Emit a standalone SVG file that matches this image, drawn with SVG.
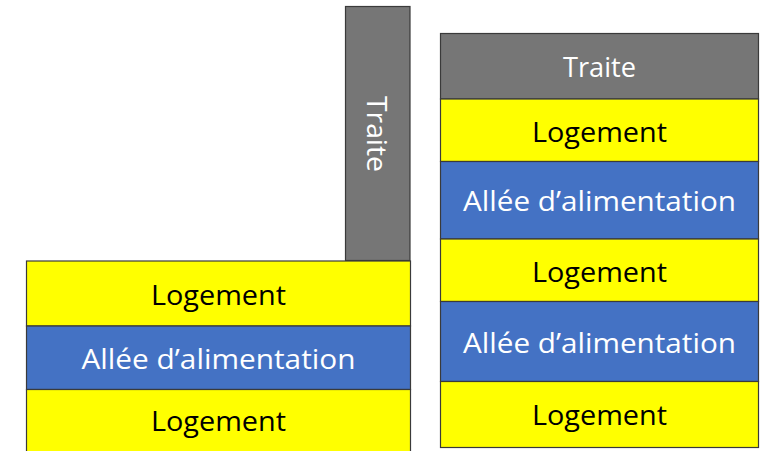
<svg xmlns="http://www.w3.org/2000/svg" width="760" height="451" viewBox="0 0 760 451">
  <style>
    .band { stroke: #3a3a3a; stroke-width: 1.2; }
    .traite { fill: #767676; }
    .loge { fill: #ffff00; }
    .allee { fill: #4472c4; }
    text { font-family: "Open Sans", "Liberation Sans", sans-serif; font-size: 28px; text-anchor: middle; dominant-baseline: central; }
    .dark { fill: #000000; }
    .light { fill: #ffffff; }
  </style>
  <rect width="760" height="451" fill="#ffffff"/>

  <!-- Left layout: vertical feeding lane beside stacked bands -->
  <g id="left-traite">
    <rect class="band traite" x="345.5" y="6.5" width="64.5" height="254"/>
    <text class="light" transform="translate(377.5,134) rotate(90)" textLength="76" lengthAdjust="spacingAndGlyphs">Traite</text>
  </g>
  <g id="left-logement-1">
    <rect class="band loge" x="26.5" y="261" width="384" height="65"/>
    <text class="dark" x="218.5" y="294" textLength="135" lengthAdjust="spacingAndGlyphs">Logement</text>
  </g>
  <g id="left-allee">
    <rect class="band allee" x="26.5" y="326" width="384" height="63.5"/>
    <text class="light" x="218.5" y="358" textLength="274" lengthAdjust="spacingAndGlyphs">Allée d’alimentation</text>
  </g>
  <g id="left-logement-2">
    <rect class="band loge" x="26.5" y="389.5" width="384" height="70"/>
    <text class="dark" x="218.5" y="420" textLength="135" lengthAdjust="spacingAndGlyphs">Logement</text>
  </g>

  <!-- Right layout: single stacked column -->
  <g id="right-traite">
    <rect class="band traite" x="440.5" y="33.5" width="318" height="65.5"/>
    <text class="light" x="599.5" y="66" textLength="73" lengthAdjust="spacingAndGlyphs">Traite</text>
  </g>
  <g id="right-logement-1">
    <rect class="band loge" x="440.5" y="99" width="318" height="62.5"/>
    <text class="dark" x="599.5" y="130.5" textLength="135" lengthAdjust="spacingAndGlyphs">Logement</text>
  </g>
  <g id="right-allee-1">
    <rect class="band allee" x="440.5" y="161.5" width="318" height="77.5"/>
    <text class="light" x="599.5" y="200" textLength="273" lengthAdjust="spacingAndGlyphs">Allée d’alimentation</text>
  </g>
  <g id="right-logement-2">
    <rect class="band loge" x="440.5" y="239" width="318" height="62.5"/>
    <text class="dark" x="599.5" y="270.5" textLength="135" lengthAdjust="spacingAndGlyphs">Logement</text>
  </g>
  <g id="right-allee-2">
    <rect class="band allee" x="440.5" y="301.5" width="318" height="80"/>
    <text class="light" x="599.5" y="341.5" textLength="273" lengthAdjust="spacingAndGlyphs">Allée d’alimentation</text>
  </g>
  <g id="right-logement-3">
    <rect class="band loge" x="440.5" y="381.5" width="318" height="66"/>
    <text class="dark" x="599.5" y="414" textLength="135" lengthAdjust="spacingAndGlyphs">Logement</text>
  </g>

  <g id="connectors"></g>
</svg>
